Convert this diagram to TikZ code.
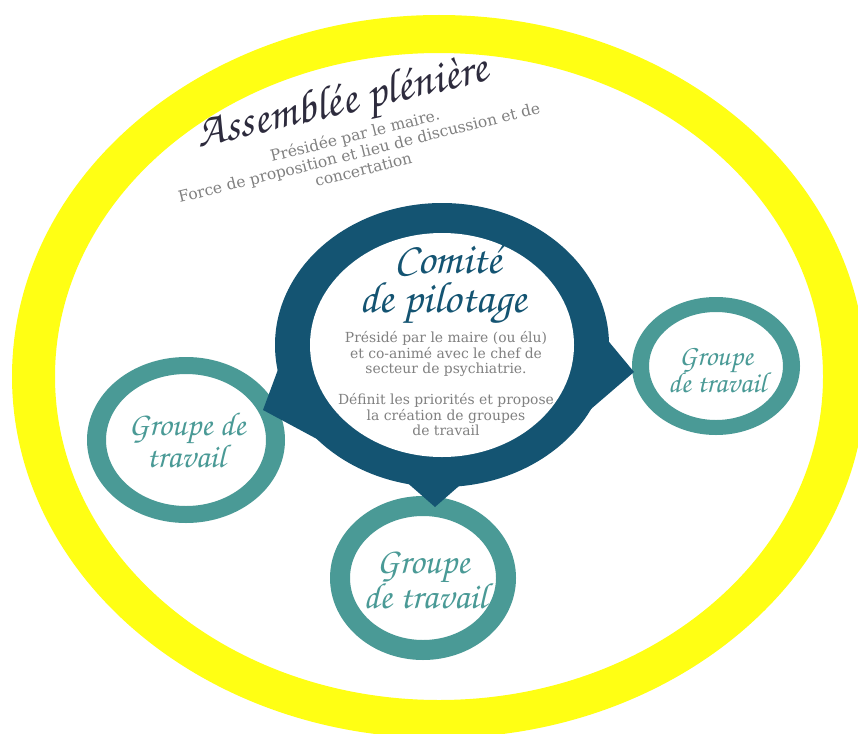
\documentclass[tikz,border=0pt]{standalone}
\usepackage{fontspec}
\setmainfont{DejaVu Serif}
\newfontfamily\scriptf{texgyrechorus-mediumitalic.otf}
\definecolor{ylw}{RGB}{255,255,20}
\definecolor{grpcol}{RGB}{74,154,150}
\definecolor{copcol}{RGB}{20,84,114}
\definecolor{greytxt}{RGB}{128,128,128}
\definecolor{ttlcol}{RGB}{45,43,61}
\tikzset{
  grptext/.style={text=grpcol, anchor=base, inner sep=0pt},
  coptext/.style={text=copcol, anchor=base, inner sep=0pt, font=\scriptf\fontsize{44}{44}\selectfont},
  desctext/.style={text=greytxt, align=center, inner sep=0pt}
}
\begin{document}
\begin{tikzpicture}[x=1pt,y=-1pt]
\useasboundingbox (0,0) rectangle (858,733);
\fill[white] (0,0) rectangle (858,733);
% Assemblee pleniere ring
\fill[ylw, even odd rule] (439,376.5) ellipse [x radius=427, y radius=361.5]
  (439,376.5) ellipse [x radius=384, y radius=323.5];
% working groups rings
\fill[grpcol, even odd rule] (186,440) ellipse [x radius=99, y radius=83]
  (186,440) ellipse [x radius=80, y radius=66];
\fill[grpcol, even odd rule] (716,366) ellipse [x radius=84, y radius=69]
  (716,366) ellipse [x radius=67, y radius=54];
\fill[grpcol, even odd rule] (423,578) ellipse [x radius=93, y radius=82]
  (423,578) ellipse [x radius=73, y radius=62];
% steering committee balloon
\fill[copcol] (442,345) ellipse [x radius=167, y radius=142];
\fill[copcol] (263,410) -- (283,356) -- (442,345) -- (330,446) -- cycle;
\fill[copcol] (634,372) -- (600,331) -- (442,345) -- (577,421) -- cycle;
\fill[copcol] (435,507) -- (395,472) -- (442,345) -- (475,472) -- cycle;
\fill[white] (442,345) ellipse [x radius=132, y radius=112];
% title
\node[text=ttlcol, anchor=base, inner sep=0pt, rotate=13, font=\scriptf\fontsize{46}{46}\selectfont] (ttl) at (345,114) {Assemblée plénière};
\node[desctext, rotate=14, font=\fontsize{15.5}{17.6}\selectfont] (sub) at (359,152)
  {Présidée par le maire.\\Force de proposition et lieu de discussion et de\\concertation};
% committee
\node[coptext] (cop1) at (448,273) {Comité};
\node[coptext] (cop2) at (443,312) {de pilotage};
\node[desctext, font=\fontsize{13.9}{15.5}\selectfont] (copdesc) at (446,384)
  {Présidé par le maire (ou élu)\\et co-animé avec le chef de\\secteur de psychiatrie.\\[15.5pt]Définit les priorités et propose\\la création de groupes\\de travail};
% groups
\node[grptext, font=\scriptf\fontsize{33}{33}\selectfont] (gl1) at (187,435) {Groupe de};
\node[grptext, font=\scriptf\fontsize{33}{33}\selectfont] (gl2) at (186,467) {travail};
\node[grptext, font=\scriptf\fontsize{29}{29}\selectfont] (gr1) at (716,365) {Groupe};
\node[grptext, font=\scriptf\fontsize{29}{29}\selectfont] (gr2) at (717,392) {de travail};
\node[grptext, font=\scriptf\fontsize{36.5}{36.5}\selectfont] (gb1) at (423,573) {Groupe};
\node[grptext, font=\scriptf\fontsize{36.5}{36.5}\selectfont] (gb2) at (425,608) {de travail};
\end{tikzpicture}
\end{document}
